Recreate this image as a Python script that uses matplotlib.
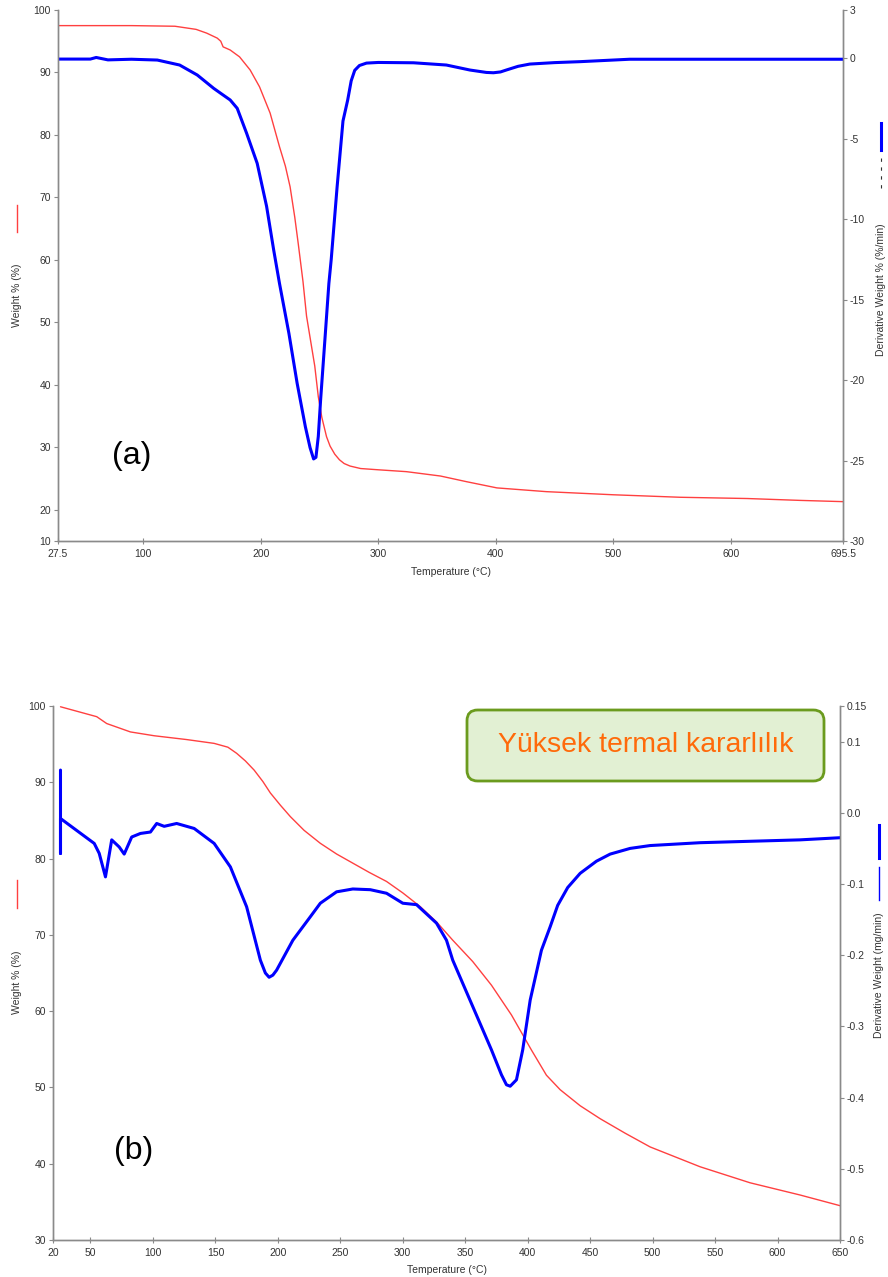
import matplotlib
matplotlib.use('Agg')
import matplotlib.pyplot as plt
from matplotlib.patches import FancyBboxPatch
from matplotlib.lines import Line2D

plt.rcParams['font.family'] = ['Liberation Sans', 'DejaVu Sans']

# ---------------- Panel (a) data ----------------
temp_a_weight = [27.5, 60, 90, 127, 145, 154, 163, 166, 168, 174, 182, 191, 199, 208, 216,
                 221, 225, 229, 232, 236, 239, 246, 249, 252, 256, 259, 263, 267, 271, 276, 285, 300,
                 324, 353, 375, 401, 443, 500, 557, 614, 659, 695.5]
weight_a = [97.5, 97.5, 97.5, 97.4, 96.9, 96.3, 95.5, 95.0, 94.1, 93.6, 92.5, 90.4, 87.7, 83.5, 78.1,
            75.0, 71.7, 66.8, 62.5, 56.5, 51.0, 43.0, 38.1, 34.8, 31.7, 30.2, 28.9, 28.0, 27.4, 27.0,
            26.6, 26.4, 26.1, 25.4, 24.5, 23.5, 22.9, 22.4, 22.0, 21.8, 21.5, 21.3]

temp_a_deriv = [27.5, 55, 60, 70, 90, 112, 131, 146, 160, 166, 174, 180, 188, 197, 205, 211,
                216, 224, 231, 238, 242, 245, 247, 249, 251, 255, 258, 260, 265, 270, 274, 277,
                280, 284, 290, 300, 330, 358, 378, 392, 398, 404, 409, 419, 429, 450, 472, 514, 695.5]
deriv_a = [-0.05, -0.05, 0.05, -0.1, -0.06, -0.11, -0.42, -1.04, -1.87, -2.18, -2.59, -3.11, -4.66,
           -6.53, -9.2, -11.9, -14.0, -17.1, -20.2, -22.9, -24.2, -24.9, -24.8, -23.5, -21.2, -17.1,
           -14.0, -12.5, -8.0, -3.9, -2.6, -1.4, -0.75, -0.45, -0.3, -0.26, -0.28, -0.42, -0.73,
           -0.88, -0.9, -0.85, -0.73, -0.5, -0.36, -0.27, -0.21, -0.06, -0.06]

xticks_a = [27.5, 100, 200, 300, 400, 500, 600, 695.5]
xticklabels_a = ['27.5', '100', '200', '300', '400', '500', '600', '695.5']
yticks_a = [15, 20, 30, 40, 50, 60, 70, 80, 90, 100]
yticklabels_a = ['10', '20', '30', '40', '50', '60', '70', '80', '90', '100']
y2ticks_a = [3, 0, -5, -10, -15, -20, -25, -30]

# ---------------- Panel (b) data ----------------
temp_b_weight = [26, 55, 63, 82, 101, 127, 149, 160, 167, 174, 181, 188, 194, 202, 210, 221, 234,
                 247, 260, 273, 287, 300, 314, 327, 340, 356, 371, 387, 403, 415, 426, 442, 458, 478,
                 498, 538, 578, 618, 650]
weight_b = [99.9, 98.6, 97.7, 96.6, 96.1, 95.6, 95.1, 94.6, 93.8, 92.8, 91.6, 90.1, 88.6, 87.0,
            85.5, 83.7, 82.0, 80.6, 79.4, 78.2, 77.0, 75.5, 73.7, 71.7, 69.3, 66.5, 63.4, 59.5, 54.9,
            51.6, 49.7, 47.6, 45.9, 44.0, 42.2, 39.6, 37.5, 35.9, 34.5]

temp_b_deriv = [26, 26, 26, 53, 57, 62, 67, 73, 77, 83, 90, 98, 103, 109, 119, 133, 149, 162, 175,
                186, 190, 193, 196, 199, 212, 226, 234, 247, 260, 274, 287, 300, 311, 327, 335, 340,
                371, 379, 383, 386, 391, 396, 402, 411, 418, 424, 432, 442, 455, 466, 482, 498, 538,
                578, 618, 650]
deriv_b = [0.060, -0.057, -0.008, -0.043, -0.057, -0.090, -0.038, -0.048, -0.058, -0.034, -0.029,
           -0.027, -0.015, -0.019, -0.015, -0.022, -0.043, -0.076, -0.132, -0.207, -0.225, -0.231,
           -0.228, -0.221, -0.179, -0.146, -0.127, -0.111, -0.107, -0.108, -0.113, -0.127, -0.129,
           -0.155, -0.179, -0.207, -0.333, -0.368, -0.382, -0.384, -0.375, -0.333, -0.263, -0.193,
           -0.16, -0.13, -0.105, -0.085, -0.068, -0.058, -0.050, -0.046, -0.042, -0.040, -0.038,
           -0.035]

xticks_b = [20, 50, 100, 150, 200, 250, 300, 350, 400, 450, 500, 550, 600, 650]
yticks_b = [30, 40, 50, 60, 70, 80, 90, 100]
y2ticks_b = [0.15, 0.1, 0.0, -0.1, -0.2, -0.3, -0.4, -0.5, -0.6]
y2ticklabels_b = ['0.15', '0.1', '0.0', '-0.1', '-0.2', '-0.3', '-0.4', '-0.5', '-0.6']

RED = '#ff4040'
BLUE = '#0000ff'
SPINE = '#8a8a8a'
TXT = '#333333'

W, H = 888, 1277
fig = plt.figure(figsize=(W / 100, H / 100), dpi=100)


def fx(px):
    return px / W


def fy(py):
    return 1 - py / H


def style(ax, ax2):
    for a in (ax, ax2):
        a.spines['top'].set_visible(False)
        for s in ('left', 'right', 'bottom'):
            a.spines[s].set_color(SPINE)
            a.spines[s].set_linewidth(1.0)
        a.set_facecolor('none')
    ax.tick_params(axis='y', direction='out', length=3, color=SPINE, labelsize=7.5, labelcolor=TXT, pad=2)
    ax.tick_params(axis='x', direction='inout', length=5, color=SPINE, labelsize=7.5, labelcolor=TXT, pad=3)
    ax2.tick_params(axis='y', direction='out', length=3, color=SPINE, labelsize=7.5, labelcolor=TXT, pad=2)


line_kw = dict(solid_joinstyle='round', solid_capstyle='round')

# ---------------- Panel (a) ----------------
axA = fig.add_axes([fx(58), fy(541), fx(843) - fx(58), fy(10) - fy(541)])
axA2 = axA.twinx()
axA.plot(temp_a_weight, weight_a, color=RED, lw=1.0, **line_kw)
axA2.plot(temp_a_deriv, deriv_a, color=BLUE, lw=2.2, **line_kw)
axA.set_xlim(27.5, 695.5)
axA.set_ylim(15, 100)
axA2.set_ylim(-30, 3)
axA.set_xticks(xticks_a)
axA.set_xticklabels(xticklabels_a)
axA.set_yticks(yticks_a)
axA.set_yticklabels(yticklabels_a)
axA2.set_yticks(y2ticks_a)
axA2.set_yticklabels([str(v) for v in y2ticks_a])
style(axA, axA2)
axA.set_xlabel('Temperature (°C)', fontsize=7.5, color=TXT, labelpad=6)
fig.text(fx(112), fy(456), '(a)', fontsize=23, color='black', va='center', ha='left')

# ---------------- Panel (b) ----------------
axB = fig.add_axes([fx(53), fy(1240), fx(840) - fx(53), fy(706) - fy(1240)])
axB2 = axB.twinx()
axB.plot(temp_b_weight, weight_b, color=RED, lw=1.0, **line_kw)
axB2.plot(temp_b_deriv, deriv_b, color=BLUE, lw=2.2, **line_kw)
axB.set_xlim(20, 650)
axB.set_ylim(30, 100)
axB2.set_ylim(-0.6, 0.15)
axB.set_xticks(xticks_b)
axB.set_xticklabels([str(v) for v in xticks_b])
axB.set_yticks(yticks_b)
axB2.set_yticks(y2ticks_b)
axB2.set_yticklabels(y2ticklabels_b)
style(axB, axB2)
axB.set_xlabel('Temperature (°C)', fontsize=7.5, color=TXT, labelpad=5)
fig.text(fx(114), fy(1151), '(b)', fontsize=23, color='black', va='center', ha='left')

# ---------------- axis titles with legend swatches ----------------
# (a) left
fig.text(fx(17), fy(295), 'Weight % (%)', rotation=90, fontsize=7.5, color=TXT, ha='center', va='center')
fig.add_artist(Line2D([fx(17), fx(17)], [fy(205), fy(232)], color=RED, lw=1.0))
# (a) right
fig.text(fx(881), fy(290), 'Derivative Weight % (%/min)', rotation=90, fontsize=7.5, color=TXT,
         ha='center', va='center')
fig.add_artist(Line2D([fx(881), fx(881)], [fy(123), fy(150)], color=BLUE, lw=2.2))
fig.add_artist(Line2D([fx(881), fx(881)], [fy(158), fy(192)], color='#333333', lw=0.8,
                      linestyle=(0, (3, 5))))
# (b) left
fig.text(fx(17), fy(982), 'Weight % (%)', rotation=90, fontsize=7.5, color=TXT, ha='center', va='center')
fig.add_artist(Line2D([fx(17), fx(17)], [fy(880), fy(908)], color=RED, lw=1.0))
# (b) right
fig.text(fx(879), fy(975), 'Derivative Weight (mg/min)', rotation=90, fontsize=7.5, color=TXT,
         ha='center', va='center')
fig.add_artist(Line2D([fx(879), fx(879)], [fy(825), fy(858)], color=BLUE, lw=2.2))
fig.add_artist(Line2D([fx(879), fx(879)], [fy(867), fy(900)], color=BLUE, lw=1.0))

# ---------------- annotation box ----------------
bx0, by0, bx1, by1 = 467, 710, 824, 781
box = FancyBboxPatch((fx(bx0), fy(by1)), fx(bx1) - fx(bx0), fy(by0) - fy(by1),
                     boxstyle='round,pad=0,rounding_size=0.012', transform=fig.transFigure,
                     facecolor='#e2f0d3', edgecolor='#6b9b1e', lw=2.0, mutation_aspect=888 / 1277)
fig.add_artist(box)
fig.text(fx((bx0 + bx1) / 2), fy((by0 + by1) / 2 - 1), 'Yüksek termal kararlılık', fontsize=20.5,
         color='#ff6a0a', ha='center', va='center')

fig.savefig('out.png', dpi=100, facecolor='white')
